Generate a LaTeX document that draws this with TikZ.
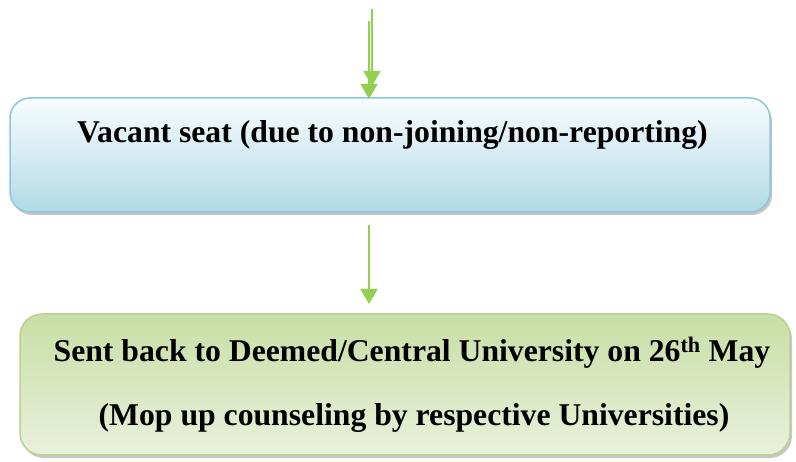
\documentclass[tikz,border=0pt]{standalone}
\usepackage{fontspec}
\setmainfont{Liberation Serif}
\usetikzlibrary{arrows.meta,shadows}
\definecolor{arrowgreen}{HTML}{92D050}
\definecolor{blueborder}{HTML}{8CC8DA}
\definecolor{bluetop}{HTML}{F8FCFD}
\definecolor{bluebot}{HTML}{B2DAE7}
\definecolor{greenborder}{HTML}{B9D28E}
\definecolor{greentop}{HTML}{C9DEA5}
\definecolor{greenbot}{HTML}{E9F0DC}
\tikzset{
  x=1pt, y=1pt,
  flowarrow/.style={draw=arrowgreen, line width=2pt, -{Triangle[width=17pt,length=15pt]}},
  bluebox/.style={draw=blueborder, line width=1.5pt, rounded corners=20pt,
    top color=bluetop, bottom color=bluebot,
    drop shadow={shadow xshift=2pt, shadow yshift=-3pt, opacity=0.45, fill=gray}},
  greenbox/.style={draw=greenborder, line width=1.5pt, rounded corners=22pt,
    top color=greentop, bottom color=greenbot,
    drop shadow={shadow xshift=2pt, shadow yshift=-3pt, opacity=0.45, fill=gray}},
  label/.style={anchor=base, inner sep=0pt, font=\fontsize{31.7}{38}\selectfont\bfseries}
}
\begin{document}
\begin{tikzpicture}
\useasboundingbox (0,0) rectangle (796,-462);
% boxes
\node[bluebox, minimum width=760pt, minimum height=114pt, inner sep=0pt] (v) at (390,-155) {};
\node[greenbox, minimum width=770pt, minimum height=141pt, inner sep=0pt] (s) at (405,-384.5) {};
% texts
\node[label] (t1) at (392.5,-143) {Vacant seat (due to non-joining/non-reporting)};
\node[label] (t2) at (412,-362) {Sent back to Deemed/Central University on 26\textsuperscript{th} May};
\node[label] (t3) at (414,-426) {(Mop up counseling by respective Universities)};
% arrow end points
\coordinate (a1s) at (372,-9);
\coordinate (a1e) at (372,-86);
\coordinate (a2s) at (369,-21);
\coordinate (a2e) at (369,-99);
\coordinate (a3s) at (369,-225);
\coordinate (a3e) at (369,-304);
\draw[flowarrow] (a1s) -- (a1e);
\draw[flowarrow] (a2s) -- (a2e);
\draw[flowarrow] (a3s) -- (a3e);
\end{tikzpicture}
\end{document}
